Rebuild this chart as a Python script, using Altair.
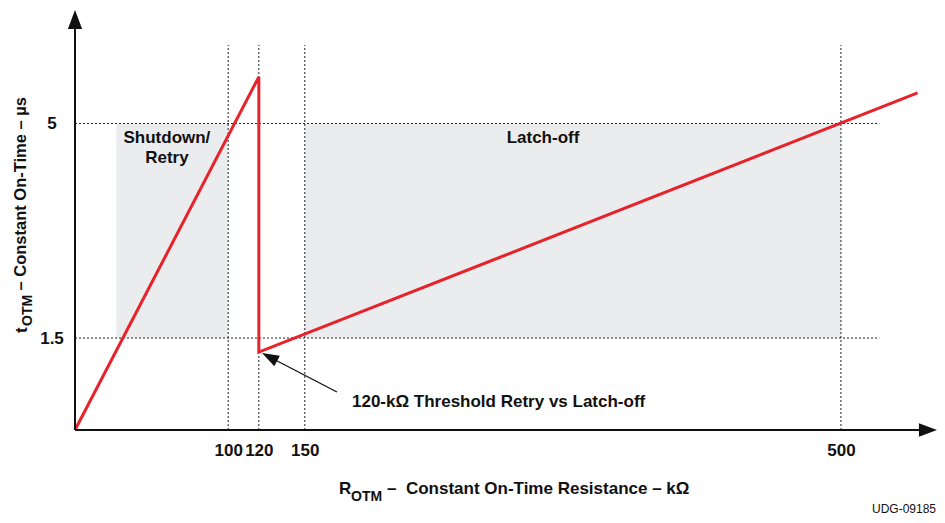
import altair as alt
import pandas as pd

# ---- data ----
line_x = [0, 120, 120, 550]
line_y = [0, 5.76, 1.27, 5.50]

grid_x = [100, 120, 150, 500]
grid_y = [1.5, 5]

shade_x0 = [27, 150]
shade_x1 = [100, 500]
shade_y0 = [1.5, 1.5]
shade_y1 = [5, 5]

x_ticks = [100, 120, 150, 500]
y_ticks = [1.5, 5]

X_MAX = 562.7
Y_MAX = 6.851
FONT = "Liberation Sans"
RED = "#e8222b"

xs = alt.Scale(domain=[0, X_MAX], nice=False, zero=False)
ys = alt.Scale(domain=[0, Y_MAX], nice=False, zero=False)

line_df = pd.DataFrame({"x": line_x, "y": line_y, "o": list(range(len(line_x)))})
shade_df = pd.DataFrame({"x0": shade_x0, "x1": shade_x1, "y0": shade_y0, "y1": shade_y1})
vgrid_df = pd.DataFrame({"x": grid_x, "y0": [0] * 4, "y1": [6.28] * 4})
hgrid_df = pd.DataFrame({"y": grid_y, "x0": [0, 0], "x1": [525, 525]})

base = alt.Chart(pd.DataFrame({"d": [0]}))

shade = alt.Chart(shade_df).mark_rect(color="#ebecee").encode(
    x=alt.X("x0:Q", scale=xs, axis=alt.Axis(values=x_ticks, domain=False, ticks=False, grid=False,
                                           labelFont=FONT, labelFontSize=17, labelFontWeight="bold",
                                           labelColor="#111", labelPadding=12, title=None)),
    x2="x1:Q",
    y=alt.Y("y0:Q", scale=ys, axis=alt.Axis(values=y_ticks, domain=False, ticks=False, grid=False,
                                           format="~g",
                                           labelFont=FONT, labelFontSize=17, labelFontWeight="bold",
                                           labelColor="#111", labelPadding=23.5, labelAlign="center",
                                           labelBaseline="middle", title=None)),
    y2="y1:Q",
)

vgrid = alt.Chart(vgrid_df).mark_rule(color="#222", strokeDash=[2, 2], strokeWidth=1).encode(
    x=alt.X("x:Q", scale=xs), y=alt.Y("y0:Q", scale=ys), y2="y1:Q"
)
hgrid = alt.Chart(hgrid_df).mark_rule(color="#222", strokeDash=[2, 2], strokeWidth=1).encode(
    y=alt.Y("y:Q", scale=ys), x=alt.X("x0:Q", scale=xs), x2="x1:Q"
)

curve = alt.Chart(line_df).mark_line(color=RED, strokeWidth=3, strokeJoin="miter").encode(
    x=alt.X("x:Q", scale=xs), y=alt.Y("y:Q", scale=ys), order="o:Q"
)

# axis lines with arrows
xaxis = base.mark_rule(color="#111", strokeWidth=2).encode(
    x=alt.datum(0, scale=xs), x2=alt.datum(552), y=alt.datum(0, scale=ys)
)
yaxis = base.mark_rule(color="#111", strokeWidth=2).encode(
    x=alt.datum(0, scale=xs), y=alt.datum(0, scale=ys), y2=alt.datum(6.6)
)
ARROW = "M0,-1L0.75,1L-0.75,1Z"
yarrow = base.mark_point(shape=ARROW, filled=True, size=361, color="#111", opacity=1).encode(
    x=alt.datum(0, scale=xs), y=alt.datum(6.697, scale=ys)
)
xarrow = base.mark_point(shape=ARROW, filled=True, size=324, color="#111", opacity=1, angle=90).encode(
    x=alt.datum(556.8, scale=xs), y=alt.datum(0, scale=ys)
)

# annotation arrow
ann_rule = base.mark_rule(color="#111", strokeWidth=1.3).encode(
    x=alt.datum(171.0, scale=xs), y=alt.datum(0.62, scale=ys), x2=alt.datum(127.0), y2=alt.datum(1.19)
)
ann_head = base.mark_point(shape="M0,-1L0.7,1L-0.7,1Z", filled=True, size=289, color="#111",
                           opacity=1, angle=297.5).encode(
    x=alt.datum(127.0, scale=xs), y=alt.datum(1.19, scale=ys)
)

def txt(s, x, y, align="center", size=17, weight="bold"):
    return base.mark_text(text=s, font=FONT, fontSize=size, fontWeight=weight, color="#111",
                          align=align, baseline="alphabetic").encode(
        x=alt.datum(x, scale=xs), y=alt.datum(y, scale=ys))

t1 = txt("Shutdown/", 60.0, 4.68)
t2 = txt("Retry", 60.0, 4.36)
t3 = txt("Latch-off", 305.5, 4.68)
t4 = txt("120-kΩ Threshold Retry vs Latch-off", 180.8, 0.375, align="left")

def ptxt(s, px, py, align="left", size=17, weight="bold", angle=0):
    return base.mark_text(text=s, font=FONT, fontSize=size, fontWeight=weight, color="#111",
                          align=align, baseline="alphabetic", angle=angle).encode(
        x=alt.value(px - 75), y=alt.value(py - 10))

# x title
xt1 = ptxt("R", 339, 494)
xt2 = ptxt("OTM", 351, 501, size=14)
xt3 = ptxt("–\u00a0\u00a0Constant On-Time Resistance – kΩ", 387, 494)
# y title (rotated, reads bottom to top)
yt1 = ptxt("t", 27, 333, align="left", angle=270)
yt2 = ptxt("OTM", 32, 326, align="left", size=14, angle=270)
yt3 = ptxt("– Constant On-Time – µs", 25.5, 97, align="right", size=16.5, angle=270)
# figure id
udg = ptxt("UDG-09185", 936, 513, align="right", size=12, weight="normal")

chart = alt.layer(
    shade, vgrid, hgrid, curve, xaxis, yaxis, yarrow, xarrow, ann_rule, ann_head,
    t1, t2, t3, t4, xt1, xt2, xt3, yt1, yt2, yt3, udg
).properties(
    width=862, height=420,
    padding={"left": 67, "top": 2, "right": 0, "bottom": 85},
    autosize=alt.AutoSizeParams(type="none"),
    background="white",
).configure_view(stroke=None)

chart.save("out.html", embed_options={"renderer": "svg", "actions": False})
